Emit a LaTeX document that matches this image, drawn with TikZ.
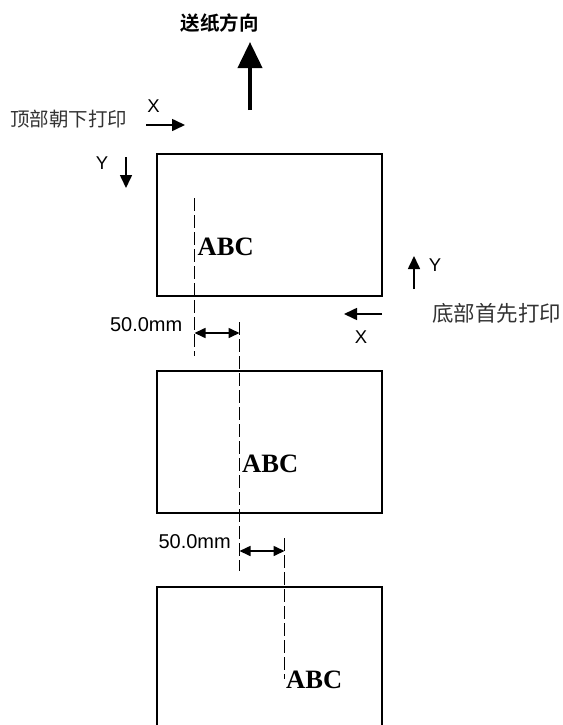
\documentclass[tikz,border=0pt]{standalone}
\usepackage{fontspec}
\setmainfont{Liberation Serif}
\setsansfont{Liberation Sans}
\newfontfamily\cjk{Noto Sans CJK SC}
\newfontfamily\cjkbold{Noto Sans CJK SC Bold}
\usetikzlibrary{arrows.meta}
\begin{document}
\begin{tikzpicture}[x=1pt,y=-1pt,
  paper/.style={line width=2.2pt},
  guide/.style={line width=1.8pt,dash pattern=on 12.5pt off 4.5pt},
  axis/.style={line width=1.6pt,-{Triangle[length=13pt,width=12pt]}},
  dim/.style={line width=1.6pt,{Triangle[length=11pt,width=10pt]}-{Triangle[length=11pt,width=10pt]}},
  bigarrow/.style={line width=4pt,-{Triangle[length=26pt,width=24pt]}},
  axlabel/.style={font=\sffamily\fontsize{18.5}{20}\selectfont,inner sep=0pt},
  mmlabel/.style={font=\sffamily\fontsize{20}{22}\selectfont,inner sep=0pt},
  abc/.style={font=\bfseries\fontsize{26.5}{28}\selectfont,inner sep=0pt,anchor=base west},
  cnlabel/.style={font=\cjk,text=black!80,inner sep=0pt}]
\useasboundingbox (0,0) rectangle (562,725);
% title and feed arrow
\node[font=\cjkbold\fontsize{19.5}{22}\selectfont,inner sep=0pt] (title) at (219.5,23) {送纸方向};
\coordinate (feedA) at (250,110);
\coordinate (feedB) at (250,42);
\draw[bigarrow] (feedA) -- (feedB);
% top-down printing label
\node[cnlabel,font=\cjk\fontsize{19.5}{22}\selectfont,anchor=west] (topdown) at (10,119) {顶部朝下打印};
\coordinate (tx1) at (146,125);
\coordinate (tx2) at (185,125);
\draw[axis] (tx1) -- (tx2);
\node[axlabel] (tX) at (153.5,106) {X};
\coordinate (ty1) at (126,157);
\coordinate (ty2) at (126,188);
\draw[axis] (ty1) -- (ty2);
\node[axlabel] (tY) at (102,163) {Y};
% bottom-first printing label
\node[cnlabel,font=\cjk\fontsize{21.5}{24}\selectfont,anchor=west] (botfirst) at (432,313) {底部首先打印};
\coordinate (by1) at (414,289);
\coordinate (by2) at (414,256);
\draw[axis] (by1) -- (by2);
\node[axlabel] (bY) at (435,265) {Y};
\coordinate (bx1) at (382,314);
\coordinate (bx2) at (344,314);
\draw[axis] (bx1) -- (bx2);
\node[axlabel] (bX) at (361,337) {X};
% papers
\node[paper,draw,minimum width=225pt,minimum height=142pt,inner sep=0pt] (p1) at (269.5,225) {};
\node[paper,draw,minimum width=225pt,minimum height=142pt,inner sep=0pt] (p2) at (269.5,442) {};
\coordinate (p3a) at (157,727);
\coordinate (p3b) at (157,587);
\coordinate (p3c) at (382,587);
\coordinate (p3d) at (382,727);
\draw[paper] (p3a) -- (p3b) -- (p3c) -- (p3d);
% guides
\coordinate (g1a) at (194.5,198);
\coordinate (g1b) at (194.5,356);
\coordinate (g2a) at (239.5,322);
\coordinate (g2b) at (239.5,571);
\coordinate (g3a) at (284.5,538);
\coordinate (g3b) at (284.5,679);
\draw[guide] (g1a) -- (g1b);
\draw[guide] (g2a) -- (g2b);
\draw[guide] (g3a) -- (g3b);
% ABC texts
\node[abc] (abc1) at (197.5,255.5) {ABC};
\node[abc] (abc2) at (242,472) {ABC};
\node[abc] (abc3) at (286,688) {ABC};
% dimensions
\coordinate (d1a) at (194.5,333);
\coordinate (d1b) at (239.5,333);
\draw[dim] (d1a) -- (d1b);
\node[mmlabel,anchor=east] (mm1) at (182.5,325) {50.0mm};
\coordinate (d2a) at (239.5,551);
\coordinate (d2b) at (284.5,551);
\draw[dim] (d2a) -- (d2b);
\node[mmlabel,anchor=east] (mm2) at (231,541.5) {50.0mm};
\end{tikzpicture}
\end{document}
